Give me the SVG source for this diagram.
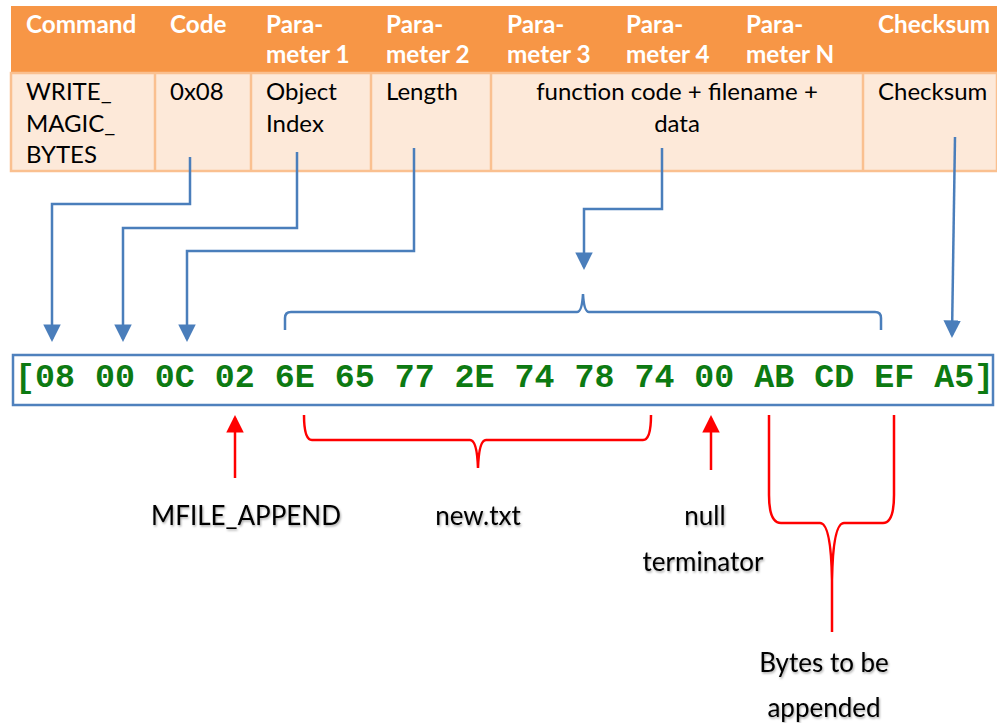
<svg xmlns="http://www.w3.org/2000/svg" width="997" height="723" viewBox="0 0 997 723">
<style>
.hd{font-family:Lato,"Liberation Sans",sans-serif;font-weight:bold;font-size:24.3px;fill:#ffffff}
.bd{font-family:Lato,"Liberation Sans",sans-serif;font-size:24px;fill:#000000}
.lb{font-family:Lato,"Liberation Sans",sans-serif;font-size:26px;fill:#000000;filter:url(#sh)}
.blue{fill:none;stroke:#4a7ebb;stroke-width:2.5}
.red{fill:none;stroke:#ff0000;stroke-width:2.5}
.sep{stroke:#fac090;stroke-width:2.5}
.hex{font-family:"Liberation Mono","DejaVu Sans Mono",monospace;font-weight:bold;font-size:33.3px;fill:#0d7a12}
</style>
<defs>
<marker id="ab" markerWidth="7" markerHeight="7" refX="5" refY="3" orient="auto" markerUnits="strokeWidth" viewBox="0 0 6 6">
<path d="M0,0 L6,3 L0,6 z" fill="#4a7ebb"/>
</marker>
<marker id="ar" markerWidth="7" markerHeight="7" refX="5" refY="3" orient="auto" markerUnits="strokeWidth" viewBox="0 0 6 6">
<path d="M0,0 L6,3 L0,6 z" fill="#ff0000"/>
</marker>
<filter id="sh" x="-10%" y="-30%" width="120%" height="160%">
<feDropShadow dx="1" dy="1.5" stdDeviation="1" flood-color="#000" flood-opacity="0.35"/>
</filter>
</defs>
<rect width="997" height="723" fill="#ffffff"/>

<g id="table">
<rect x="11" y="6" width="986" height="67" fill="#f79646"/>
<rect x="11" y="73" width="986" height="98" fill="#fde9d9" stroke="#fac090" stroke-width="2.5"/>
<line class="sep" x1="155" y1="73" x2="155" y2="171"/>
<line class="sep" x1="251" y1="73" x2="251" y2="171"/>
<line class="sep" x1="371" y1="73" x2="371" y2="171"/>
<line class="sep" x1="491" y1="73" x2="491" y2="171"/>
<line class="sep" x1="863" y1="73" x2="863" y2="171"/>
<text class="hd" x="26" y="33">Command</text>
<text class="hd" x="170" y="33">Code</text>
<text class="hd" x="266" y="33">Para-</text>
<text class="hd" x="266" y="63">meter 1</text>
<text class="hd" x="386" y="33">Para-</text>
<text class="hd" x="386" y="63">meter 2</text>
<text class="hd" x="507" y="33">Para-</text>
<text class="hd" x="507" y="63">meter 3</text>
<text class="hd" x="626" y="33">Para-</text>
<text class="hd" x="626" y="63">meter 4</text>
<text class="hd" x="746" y="33">Para-</text>
<text class="hd" x="746" y="63">meter N</text>
<text class="hd" x="878" y="33">Checksum</text>
<text class="bd" x="26" y="100">WRITE_</text>
<text class="bd" x="26" y="132">MAGIC_</text>
<text class="bd" x="26" y="163">BYTES</text>
<text class="bd" x="170" y="100">0x08</text>
<text class="bd" x="266" y="100">Object</text>
<text class="bd" x="266" y="132">Index</text>
<text class="bd" x="386" y="100">Length</text>
<text class="bd" x="677" y="100" text-anchor="middle">function code + filename +</text>
<text class="bd" x="677" y="132" text-anchor="middle">data</text>
<text class="bd" x="878" y="100">Checksum</text>
</g>

<g id="bytes">
<rect x="13" y="355" width="980" height="50" fill="#ffffff" stroke="#4f81bd" stroke-width="2.5"/>
<text class="hex" x="15" y="387" xml:space="preserve">[08 00 0C 02 6E 65 77 2E 74 78 74 00 AB CD EF A5]</text>
</g>

<g id="connectors">
<path class="blue" d="M190,157 V204 H52 V339" marker-end="url(#ab)"/>
<path class="blue" d="M297,152 V228 H123 V339" marker-end="url(#ab)"/>
<path class="blue" d="M414,148 V251 H187 V339" marker-end="url(#ab)"/>
<path class="blue" d="M662,148 V209 H584 V267" marker-end="url(#ab)"/>
<path class="blue" d="M955,137 L952,335" marker-end="url(#ab)"/>
<path class="blue" d="M285,330 V318 Q285,312 291,312 H577 Q582,312 583,294 Q584,312 589,312 H875 Q881,312 881,318 V330"/>
<path class="red" d="M235,478 V418" marker-end="url(#ar)"/>
<path class="red" d="M711,470 V418" marker-end="url(#ar)"/>
<path class="red" d="M304,415 Q304,440 312,440 H470 Q477,440 478,468 Q479,440 486,440 H643 Q651,440 651,415"/>
<path class="red" d="M769,415 V495 Q769,523 781,523 H820 Q831,523 832,580 V632 M832,580 Q833,523 844,523 H883 Q894,523 894,495 V415"/>
</g>

<g id="labels">
<text class="lb" x="246" y="525" text-anchor="middle">MFILE_APPEND</text>
<text class="lb" x="478" y="525" text-anchor="middle">new.txt</text>
<text class="lb" x="705" y="525" text-anchor="middle">null</text>
<text class="lb" x="703" y="571" text-anchor="middle">terminator</text>
<text class="lb" x="824" y="672" text-anchor="middle">Bytes to be</text>
<text class="lb" x="824" y="717" text-anchor="middle">appended</text>
</g>
</svg>
